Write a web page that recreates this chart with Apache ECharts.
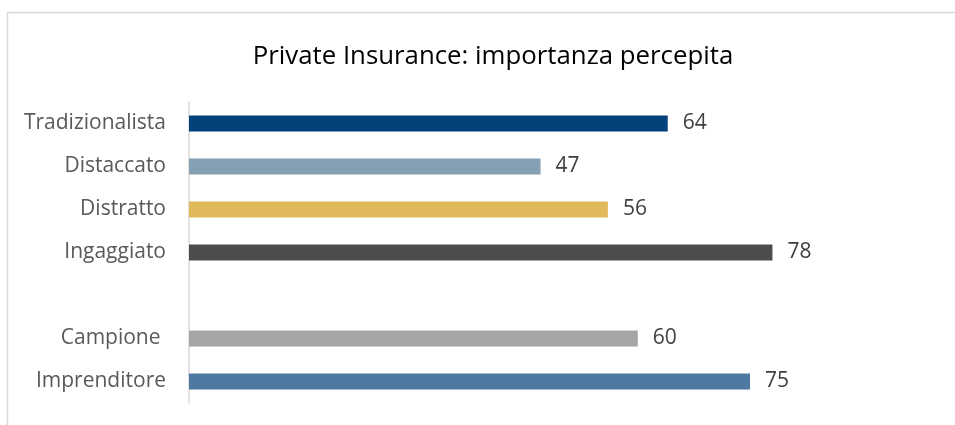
<!DOCTYPE html>
<html>
<head>
<meta charset="utf-8">
<script src="https://cdn.jsdelivr.net/npm/echarts@6/dist/echarts.min.js"></script>
<style>
html,body{margin:0;padding:0;background:#fff;}
#chart{width:955px;height:425px;}
</style>
</head>
<body>
<div id="chart"></div>
<script>
var titleText = 'Private Insurance: importanza percepita';
var categories = ['Tradizionalista', 'Distaccato', 'Distratto', 'Ingaggiato', '', 'Campione ', 'Imprenditore'];
var values = [64, 47, 56, 78, null, 60, 75];
var barColors = ['#02417a', '#86a0b3', '#e0b95b', '#4d4d4d', '#ffffff', '#a5a5a5', '#4d79a1'];

var chart = echarts.init(document.getElementById('chart'));
var seriesData = values.map(function (v, i) {
  return v === null ? '-' : { value: v, itemStyle: { color: barColors[i] } };
});

chart.setOption({
  animation: false,
  backgroundColor: '#ffffff',
  graphic: [{
    type: 'rect',
    shape: { x: 7.5, y: 12.5, width: 1200, height: 1200 },
    style: { fill: 'none', stroke: '#d9d9d9', lineWidth: 1.5 },
    silent: true
  }],
  title: {
    text: titleText,
    left: 488,
    textAlign: 'center',
    top: 39,
    textStyle: { fontFamily: 'Open Sans', fontWeight: 'normal', fontSize: 25.8, color: '#000000' }
  },
  grid: { left: 189, right: 18, top: 102, height: 301, containLabel: false },
  xAxis: {
    type: 'value', min: 0, max: 100,
    show: false
  },
  yAxis: {
    type: 'category',
    data: categories,
    inverse: true,
    axisLine: { show: true, lineStyle: { color: '#d9d9d9', width: 1.5 } },
    axisTick: { show: false },
    axisLabel: { margin: 23, fontFamily: 'Open Sans', fontSize: 21, color: '#595959' }
  },
  series: [{
    type: 'bar',
    data: seriesData,
    barWidth: 16,
    label: {
      show: true, position: 'right', distance: 15,
      fontFamily: 'Open Sans', fontSize: 21, color: '#404040'
    }
  }]
});
</script>
</body>
</html>
